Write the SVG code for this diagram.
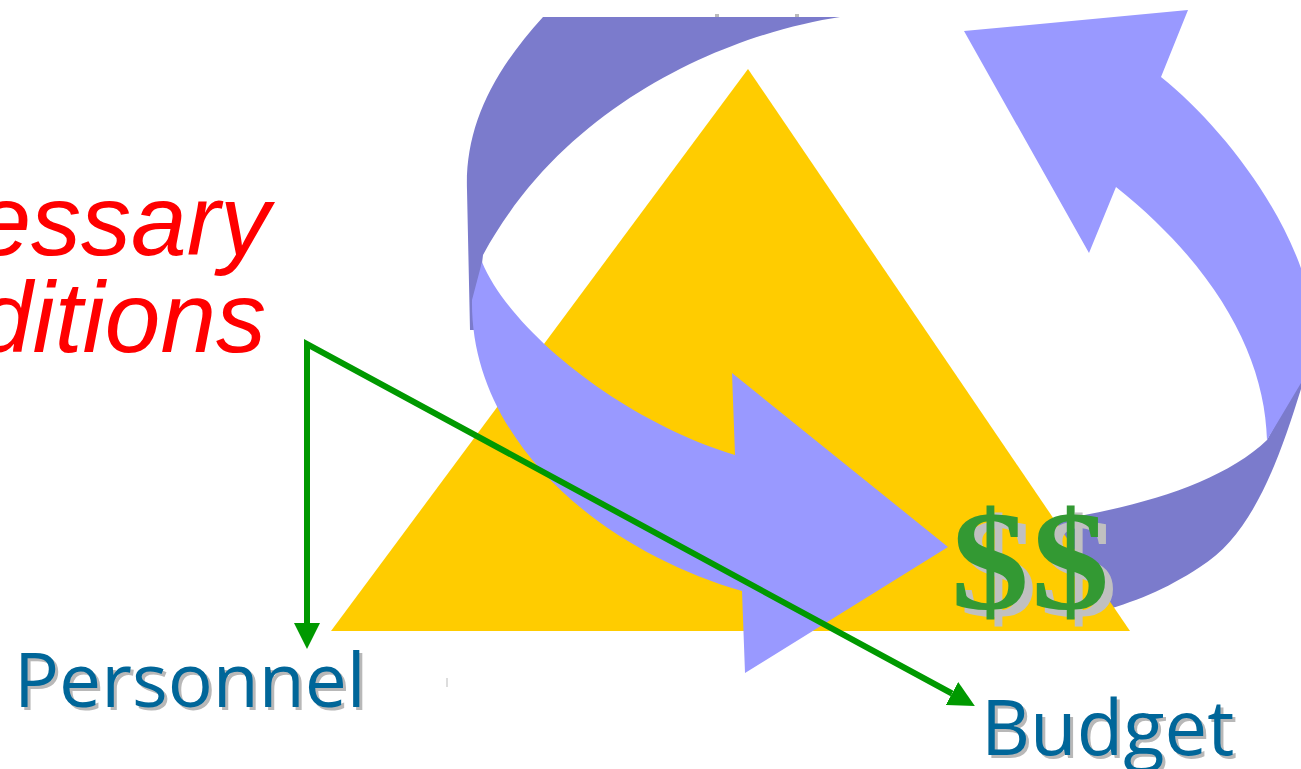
<svg xmlns="http://www.w3.org/2000/svg" width="1301" height="769" viewBox="0 0 1301 769">
<style>
.light{fill:#9999FF}
.dark{fill:#7B7BCC}
.conn{fill:none;stroke:#009900;stroke-width:6;stroke-linejoin:miter}
.red{font-family:"Liberation Sans",Arial,sans-serif;font-style:italic;font-size:100px;fill:#FF0000}
.lbl{font-family:"Open Sans","Noto Sans",sans-serif;font-size:76px}
.lbl .sh{fill:#B8B8B8}
.lbl .fg{fill:#006699}
.dollar{font-family:"Liberation Serif","Times New Roman",serif;font-weight:bold;font-size:142px;letter-spacing:2px}
</style>
<defs>
<marker id="ah" markerUnits="userSpaceOnUse" markerWidth="26" markerHeight="26" refX="0" refY="12" orient="auto-start-reverse" viewBox="0 0 24 24">
<path d="M0,0 L24,12 L0,24 Z" fill="#009900"/>
</marker>
</defs>
<rect width="1301" height="769" fill="#FFFFFF"/>
<g id="cycle-back">
<path class="dark" d="M543,17 L840,17 C740,32 570,95 483,255 L474,330 L470,330 L467,190 C465,130 490,75 543,17 Z"/>
<path class="dark" d="M1040,522 C1130,510 1220,485 1267,440 L1310,360 C1285,440 1260,530 1200,567 C1165,590 1135,602 1095,613 L1040,625 Z"/>
<rect x="715" y="14" width="4" height="3" fill="#BBBBBB"/>
<rect x="795" y="14" width="4" height="3" fill="#BBBBBB"/>
</g>
<g id="triangle">
<polygon points="748,69 1130,631 331,631" fill="#FFCC00"/>
</g>
<g id="cycle-front">
<path class="light" d="M482,262 C510,330 620,420 735,455 L732,373 L948,547 L745,673 L742,591 C600,550 470,440 472,300 Z"/>
<path class="light" d="M964,31 L1188,10 L1161,77 C1215,120 1280,200 1305,280 L1312,290 L1312,370 L1301,383 L1267,440 C1265,360 1220,270 1116,187 L1089,253 Z"/>
</g>
<g id="connectors">
<path class="conn" d="M307,623 L307,344 L952,693.5" marker-start="url(#ah)" marker-end="url(#ah)"/>
</g>
<g id="conditions-label">
<text class="red" x="270" y="255" text-anchor="end">essary</text>
<text class="red" x="266" y="352" text-anchor="end">ditions</text>
</g>
<g id="dollar-symbol" class="dollar">
<text transform="translate(959,616) scale(1.1,1)" fill="#C0C0C0">$$</text>
<text transform="translate(951,609) scale(1.1,1)" fill="#339933">$$</text>
</g>
<g id="personnel" class="lbl">
<text class="sh" x="17" y="710" font-size="75">Personnel</text>
<text class="fg" x="14" y="707" font-size="75">Personnel</text>
<rect x="446" y="678" width="2" height="9" fill="#DDDDDD"/>
</g>
<g id="budget" class="lbl">
<text class="sh" x="984" y="758">Budget</text>
<text class="fg" x="981" y="755">Budget</text>
</g>
</svg>
